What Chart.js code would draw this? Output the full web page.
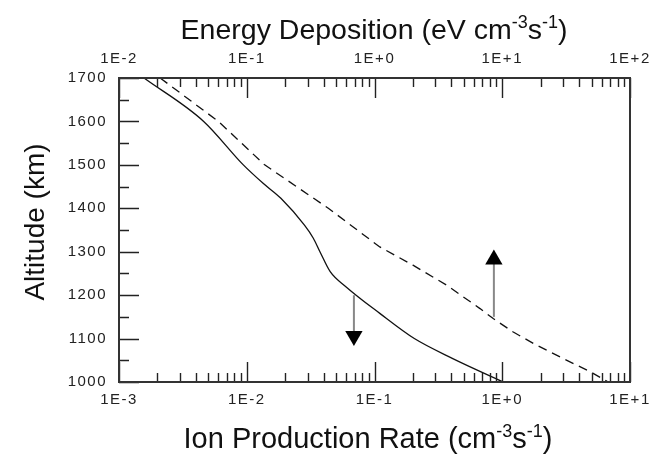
<!DOCTYPE html>
<html>
<head>
<meta charset="utf-8">
<script src="https://cdn.jsdelivr.net/npm/chart.js@4/dist/chart.umd.min.js"></script>
<style>
  html, body { margin: 0; padding: 0; background: #fff; }
  #wrap { width: 654px; height: 455px; }
</style>
</head>
<body>
<div id="wrap"><canvas id="c" width="654" height="455"></canvas></div>
<script>
// Altitude profile of ion production (bottom axis) and energy deposition (top axis)
const altIon = [1700, 1600, 1500, 1457, 1423, 1361, 1331, 1300, 1254, 1219, 1158, 1100, 1054, 1000];
const ionRate = [0.00157, 0.0046, 0.0094, 0.0135, 0.0185, 0.0283, 0.0332, 0.0374, 0.045, 0.060, 0.110, 0.205, 0.41, 1.02];

const altEnergy = [1700, 1600, 1500, 1400, 1311, 1269, 1223, 1169, 1146, 1115, 1089, 1054, 1024, 1000];
const energyDep = [0.021, 0.060, 0.138, 0.435, 1.10, 2.0, 3.67, 6.7, 8.5, 12.2, 17.5, 30, 48.6, 67.6];

// Arrows: [x value on the ion-rate axis, start altitude, head altitude]
const arrowDown = [0.069, 1200, 1106];
const arrowUp = [0.86, 1150, 1282];

// Axis ranges and labelled decades
const ionDecades = [1e-3, 1e-2, 1e-1, 1e0, 1e1];
const energyDecades = [1e-2, 1e-1, 1e0, 1e1, 1e2];
const altTicks = [1000, 1050, 1100, 1150, 1200, 1250, 1300, 1350, 1400, 1450, 1500, 1550, 1600, 1650, 1700];
const altLabelled = [1000, 1100, 1200, 1300, 1400, 1500, 1600, 1700];

const ionTitle = [['Ion Production Rate (cm', 0], ['-3', 1], ['s', 0], ['-1', 1], [')', 0]];
const energyTitle = [['Energy Deposition (eV cm', 0], ['-3', 1], ['s', 0], ['-1', 1], [')', 0]];
const altTitle = 'Altitude (km)';

const FONT = "'Liberation Sans', Arial, sans-serif";

function sciLabel(v) {
  const e = Math.round(Math.log10(v));
  return '1E' + (e < 0 ? '-' : '+') + Math.abs(e);
}
// tick list for a log axis: [value, isMajor] for 1..9 x each decade
function logTicksFrom(decades) {
  const out = [];
  for (let i = 0; i < decades.length; i++) {
    const d = decades[i];
    out.push([d, true]);
    if (i === decades.length - 1) break;
    for (let m = 2; m <= 9; m++) out.push([d * m, false]);
  }
  return out;
}

// frame, inward tick marks and the titles
const framePlugin = {
  id: 'frame',
  beforeDraw(chart) {
    chart.ctx.letterSpacing = '1.5px';
  },
  beforeDatasetsDraw(chart) {
    chart.ctx.letterSpacing = '0px';
  },
  afterDraw(chart) {
    const ctx = chart.ctx;
    const a = chart.chartArea;
    const sx = chart.scales.x, st = chart.scales.x2, sy = chart.scales.y;
    ctx.save();
    ctx.letterSpacing = '0px';
    ctx.lineWidth = 1.4;
    ctx.strokeStyle = '#222';
    ctx.beginPath();
    logTicksFrom(ionDecades).forEach(([v, m]) => {
      const px = Math.round(sx.getPixelForValue(v)) + 0.5;
      ctx.moveTo(px, a.bottom); ctx.lineTo(px, a.bottom - (m ? 20 : 9));
    });
    logTicksFrom(energyDecades).forEach(([v, m]) => {
      const px = Math.round(st.getPixelForValue(v)) + 0.5;
      ctx.moveTo(px, a.top); ctx.lineTo(px, a.top + (m ? 20 : 9));
    });
    altTicks.forEach(v => {
      const m = altLabelled.includes(v);
      const py = Math.round(sy.getPixelForValue(v)) + 0.5;
      ctx.moveTo(a.left, py); ctx.lineTo(a.left + (m ? 20 : 10), py);
    });
    ctx.stroke();
    ctx.strokeStyle = '#333';
    ctx.lineWidth = 2;
    ctx.strokeRect(a.left, a.top, a.right - a.left, a.bottom - a.top);
    ctx.restore();

    drawRich(ctx, energyTitle, 374, 39, 28.5);
    drawRich(ctx, ionTitle, 368, 448, 29);
    ctx.save();
    ctx.translate(44, 222);
    ctx.rotate(-Math.PI / 2);
    ctx.font = '28px ' + FONT;
    ctx.fillStyle = '#111';
    ctx.textAlign = 'center';
    ctx.textBaseline = 'alphabetic';
    ctx.fillText(altTitle, 0, 0);
    ctx.restore();
  }
};

function drawRich(ctx, parts, cx, baseline, size) {
  ctx.save();
  ctx.fillStyle = '#111';
  ctx.textBaseline = 'alphabetic';
  ctx.textAlign = 'left';
  const sup = Math.round(size * 0.62);
  let w = 0;
  parts.forEach(p => {
    ctx.font = (p[1] ? sup : size) + 'px ' + FONT;
    w += ctx.measureText(p[0]).width;
  });
  let x = cx - w / 2;
  parts.forEach(p => {
    ctx.font = (p[1] ? sup : size) + 'px ' + FONT;
    ctx.fillText(p[0], x, p[1] ? baseline - size * 0.38 : baseline);
    x += ctx.measureText(p[0]).width;
  });
  ctx.restore();
}

const tickFont = { family: FONT, size: 15 };

new Chart(document.getElementById('c'), {
  type: 'line',
  data: {
    datasets: [
      {
        label: 'Ion production rate',
        data: ionRate.map((v, i) => ({ x: v, y: altIon[i] })),
        xAxisID: 'x', yAxisID: 'y',
        borderColor: '#111', borderWidth: 1.3,
        pointRadius: 0, cubicInterpolationMode: 'monotone', fill: false
      },
      {
        label: 'Energy deposition',
        data: energyDep.map((v, i) => ({ x: v, y: altEnergy[i] })),
        xAxisID: 'x2', yAxisID: 'y',
        borderColor: '#111', borderWidth: 1.3, borderDash: [9, 6],
        pointRadius: 0, tension: 0, fill: false
      },
      {
        label: 'down',
        data: [{ x: arrowDown[0], y: arrowDown[1] }, { x: arrowDown[0], y: arrowDown[2] }],
        xAxisID: 'x', yAxisID: 'y',
        borderColor: '#888', borderWidth: 2,
        pointRadius: [0, 10], pointStyle: 'triangle', rotation: 180,
        pointBackgroundColor: '#000', pointBorderColor: '#000', pointBorderWidth: 0,
        fill: false
      },
      {
        label: 'up',
        data: [{ x: arrowUp[0], y: arrowUp[1] }, { x: arrowUp[0], y: arrowUp[2] }],
        xAxisID: 'x', yAxisID: 'y',
        borderColor: '#888', borderWidth: 2,
        pointRadius: [0, 10], pointStyle: 'triangle', rotation: 0,
        pointBackgroundColor: '#000', pointBorderColor: '#000', pointBorderWidth: 0,
        fill: false
      }
    ]
  },
  options: {
    responsive: false,
    animation: false,
    events: [],
    layout: { padding: { left: 0, right: 24, top: 0, bottom: 0 } },
    plugins: { legend: { display: false }, tooltip: { enabled: false } },
    scales: {
      x: {
        type: 'logarithmic', position: 'bottom',
        min: ionDecades[0], max: ionDecades[ionDecades.length - 1],
        afterBuildTicks: s => { s.ticks = ionDecades.map(v => ({ value: v })); },
        afterFit: s => { s.height = 73; },
        grid: { display: false }, border: { display: false },
        ticks: {
          autoSkip: false, maxRotation: 0, padding: 1, color: '#222', font: tickFont,
          callback: v => sciLabel(v)
        }
      },
      x2: {
        type: 'logarithmic', position: 'top',
        min: energyDecades[0], max: energyDecades[energyDecades.length - 1],
        afterBuildTicks: s => { s.ticks = energyDecades.map(v => ({ value: v })); },
        afterFit: s => { s.height = 78; },
        grid: { display: false }, border: { display: false },
        ticks: {
          autoSkip: false, maxRotation: 0, padding: 2, color: '#222', font: tickFont,
          callback: v => sciLabel(v)
        }
      },
      y: {
        type: 'linear', position: 'left',
        min: altTicks[0], max: altTicks[altTicks.length - 1],
        afterBuildTicks: s => { s.ticks = altLabelled.map(v => ({ value: v })); },
        afterFit: s => { s.width = 119; },
        grid: { display: false }, border: { display: false },
        ticks: {
          autoSkip: false, padding: 4, color: '#222', font: tickFont,
          callback: v => String(v)
        }
      }
    }
  },
  plugins: [framePlugin]
});
</script>
</body>
</html>
